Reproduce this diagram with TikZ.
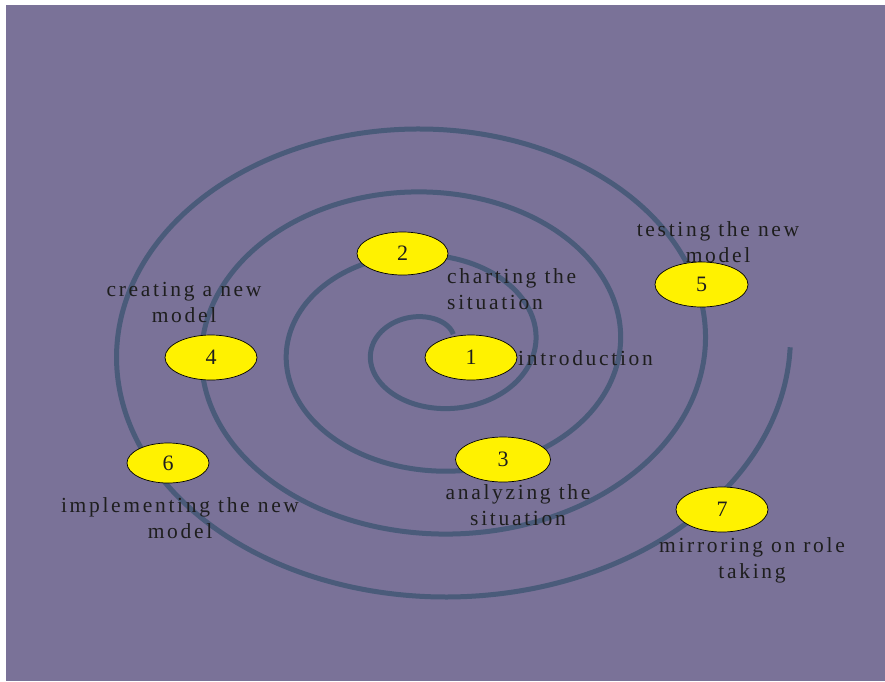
\documentclass[tikz,border=0pt]{standalone}
\usepackage{fontspec}
\usetikzlibrary{shapes.geometric}
\setmainfont{Liberation Serif}
\newfontfamily\lblfont[LetterSpace=12.5]{Liberation Serif}
\definecolor{bgpurple}{RGB}{122,114,152}
\definecolor{spiralblue}{RGB}{74,91,122}
\definecolor{inkdark}{RGB}{30,30,30}
\tikzset{
  stage/.style={ellipse, draw=black, line width=0.7pt, fill=yellow,
    minimum width=92pt, minimum height=45pt, inner sep=0pt,
    font=\fontsize{22}{24}\selectfont, text=inkdark},
  % for two-line captions the base anchor sits on the last line
  stagelbl/.style={font=\lblfont\fontsize{21.5}{25.5}\selectfont, text=inkdark,
    inner sep=0pt, align=center, anchor=base},
}
\begin{document}
\begin{tikzpicture}[x=1pt,y=-1pt]
  \useasboundingbox (0,0) rectangle (885,681);
  \fill[white] (0,0) rectangle (885,681);
  \fill[bgpurple] (6,5) rectangle (885,681);

  % elliptical Archimedean spiral, four turns outward
  \draw[spiralblue, line width=5pt, line join=round]
    plot[domain=40:1440, samples=500, smooth, variable=\t]
      ({432.25+0.236111*(\t+76)*cos(\t)}, {347.25-0.175*(\t+76)*sin(\t)});

  % stages
  \node[stage] (e1) at (471,357.5) {1};
  \node[stage, minimum width=91pt, minimum height=43pt] (e2) at (402.5,253.5) {2};
  \node[stage, minimum width=95pt] (e3) at (503,459.5) {3};
  \node[stage] (e4) at (211,357.5) {4};
  \node[stage, minimum width=93pt] (e5) at (701.5,284.5) {5};
  \node[stage, minimum width=82pt, minimum height=40pt] (e6) at (168,463) {6};
  \node[stage] (e7) at (722,509.5) {7};

  % stage captions
  \node[stagelbl, align=left, anchor=base west] (l2) at (447,309) {charting the\\situation};
  \node[stagelbl, anchor=base west] (l1) at (518,365) {introduction};
  \node[stagelbl] (l5) at (718,262) {testing the new\\model};
  \node[stagelbl] (l4) at (184,322) {creating a new\\model};
  \node[stagelbl] (l6) at (180,538) {implementing the new\\model};
  \node[stagelbl] (l3) at (518,525) {analyzing the\\situation};
  \node[stagelbl] (l7) at (752,578) {mirroring on role\\taking};
\end{tikzpicture}
\end{document}
